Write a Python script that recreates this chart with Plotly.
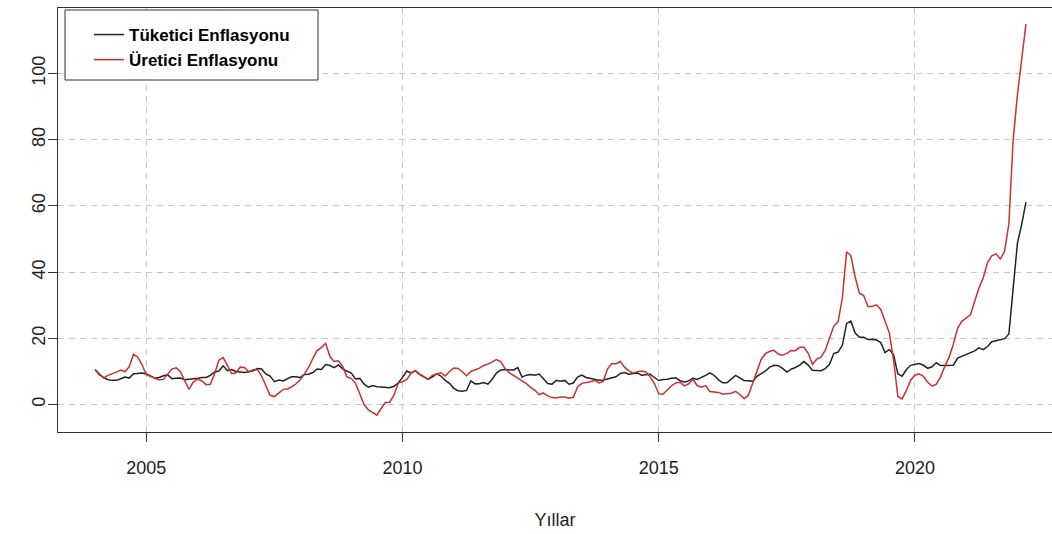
import numpy as np
import plotly.graph_objects as go

# Monthly annual inflation rates (%), January 2004 - March 2022
start_year = 2004
tufe = [
    10.6, 9.0, 8.2, 7.5, 7.3, 7.3, 7.8, 8.3, 8.0, 9.3, 9.4, 9.5,                       # 2004
    9.24, 8.69, 7.94, 8.18, 8.70, 8.95, 7.82, 7.91, 7.99, 7.52, 7.61, 7.72,            # 2005
    7.93, 8.15, 8.16, 8.83, 9.86, 10.12, 11.69, 10.26, 10.55, 9.98, 9.86, 9.65,        # 2006
    9.93, 10.16, 10.86, 10.72, 9.23, 8.60, 6.90, 7.39, 7.12, 7.70, 8.40, 8.39,         # 2007
    8.17, 9.10, 9.15, 9.66, 10.74, 10.61, 12.06, 11.77, 11.13, 11.99, 10.76, 10.06,    # 2008
    9.50, 7.73, 7.89, 6.13, 5.24, 5.73, 5.39, 5.33, 5.27, 5.08, 5.53, 6.53,            # 2009
    8.19, 10.13, 9.56, 10.19, 9.10, 8.37, 7.58, 8.33, 9.24, 8.62, 7.29, 6.40,          # 2010
    4.90, 4.16, 3.99, 4.26, 7.17, 6.24, 6.31, 6.65, 6.15, 7.66, 9.48, 10.45,           # 2011
    10.61, 10.43, 10.43, 11.14, 8.28, 8.87, 9.07, 8.88, 9.19, 7.80, 6.37, 6.16,        # 2012
    7.31, 7.03, 7.29, 6.13, 6.51, 8.30, 8.88, 8.17, 7.88, 7.71, 7.32, 7.40,            # 2013
    7.75, 7.89, 8.39, 9.38, 9.66, 9.16, 9.32, 9.54, 8.86, 8.96, 9.15, 8.17,            # 2014
    7.24, 7.55, 7.61, 7.91, 8.09, 7.20, 6.81, 7.14, 7.95, 7.58, 8.10, 8.81,            # 2015
    9.58, 8.78, 7.46, 6.57, 6.58, 7.64, 8.79, 8.05, 7.28, 7.16, 7.00, 8.53,            # 2016
    9.22, 10.13, 11.29, 11.87, 11.72, 10.90, 9.79, 10.68, 11.20, 11.90, 12.98, 11.92,  # 2017
    10.35, 10.26, 10.23, 10.85, 12.15, 15.39, 15.85, 17.90, 24.52, 25.24, 21.62, 20.30,  # 2018
    20.35, 19.67, 19.71, 19.50, 18.71, 15.72, 16.65, 15.01, 9.26, 8.55, 10.56, 11.84,  # 2019
    12.15, 12.37, 11.86, 10.94, 11.39, 12.62, 11.76, 11.77, 11.75, 11.89, 14.03, 14.60,  # 2020
    14.97, 15.61, 16.19, 17.14, 16.59, 17.53, 18.95, 19.25, 19.58, 19.89, 21.31, 36.08,  # 2021
    48.69, 54.44, 61.14,                                                               # 2022
]
ufe = [
    10.6, 9.3, 8.0, 8.8, 9.2, 9.8, 10.4, 9.9, 11.4, 15.2, 14.3, 12.0,                  # 2004
    9.0, 8.4, 7.9, 7.4, 7.6, 9.0, 10.7, 11.1, 9.9, 7.2, 4.6, 6.8,                      # 2005
    7.7, 7.2, 6.0, 6.1, 9.3, 13.4, 14.2, 11.8, 9.3, 9.6, 11.3, 11.2,                   # 2006
    9.9, 10.5, 10.6, 8.6, 5.4, 2.8, 2.4, 3.5, 4.5, 4.7, 5.3, 6.2,                      # 2007
    7.4, 9.2, 11.2, 13.9, 16.3, 17.2, 18.5, 14.5, 13.0, 13.2, 11.5, 8.3,               # 2008
    7.9, 6.4, 3.0, 0.0, -1.6, -2.3, -3.2, -1.2, 0.6, 0.7, 2.8, 6.5,                    # 2009
    6.9, 7.6, 9.4, 10.3, 9.2, 8.4, 7.6, 8.8, 9.3, 9.6, 8.6, 10.0,                      # 2010
    11.0, 10.9, 9.9, 8.7, 10.0, 10.4, 11.0, 11.8, 12.2, 12.9, 13.6, 13.0,              # 2011
    10.9, 9.6, 8.8, 8.0, 7.3, 6.3, 5.2, 4.3, 3.0, 3.5, 2.6, 2.1,                       # 2012
    2.0, 2.3, 2.3, 1.9, 2.2, 5.3, 6.4, 6.6, 6.9, 7.3, 6.5, 7.0,                        # 2013
    10.72, 12.40, 12.31, 12.98, 11.28, 10.19, 9.46, 9.88, 10.11, 9.85, 8.36, 6.36,     # 2014
    3.28, 3.10, 4.51, 5.68, 6.52, 6.73, 5.62, 6.22, 7.65, 5.74, 5.25, 5.71,            # 2015
    3.96, 3.82, 3.67, 3.13, 3.25, 3.41, 3.96, 3.03, 1.78, 2.79, 6.41, 9.94,            # 2016
    13.69, 15.36, 16.09, 16.37, 15.26, 14.87, 15.45, 16.34, 16.28, 17.28, 17.30, 15.47,  # 2017
    12.14, 13.71, 14.28, 16.37, 20.16, 23.71, 25.00, 32.13, 46.15, 45.01, 38.54, 33.64,  # 2018
    32.93, 29.59, 29.64, 30.12, 28.71, 25.04, 21.66, 13.45, 2.45, 1.70, 4.26, 7.36,    # 2019
    8.84, 9.26, 8.50, 6.71, 5.53, 6.17, 8.33, 11.53, 14.33, 18.20, 23.11, 25.15,       # 2020
    26.16, 27.09, 31.20, 35.17, 38.33, 42.89, 44.92, 45.52, 43.96, 46.31, 54.62, 79.89,  # 2021
    93.53, 105.01, 114.97,                                                             # 2022
]
series_names = ["Tüketici Enflasyonu", "Üretici Enflasyonu"]
series_colors = ["#222222", "#c8312f"]
x_ticks = [2005, 2010, 2015, 2020]
y_ticks = [0, 20, 40, 60, 80, 100]
x_title = "Yıllar"

t = start_year + np.arange(len(tufe)) / 12.0

FONT = "Liberation Sans, Arial, sans-serif"

fig = go.Figure()
for vals, name, col in zip([tufe, ufe], series_names, series_colors):
    fig.add_trace(go.Scatter(x=t, y=vals, mode="lines", name=name,
                             line=dict(color=col, width=1.5)))

axis_common = dict(
    showline=True, linecolor="#333333", linewidth=1, mirror=True,
    ticks="outside", ticklen=9, tickcolor="#333333", tickwidth=1,
    showgrid=True, gridcolor="#c8c8c8", gridwidth=1, griddash="6px,5px",
    zeroline=False,
    tickfont=dict(family=FONT, size=18, color="#222222"),
)

# legend frame (R-style box), drawn in paper coordinates of the plot area
plot_top, plot_h = 8, 424
def py(pix):
    return (plot_top + plot_h - pix) / plot_h
def px(pix):
    return (pix - 58) / 994.0

fig.add_shape(type="rect", xref="paper", yref="paper",
              x0=px(65), x1=px(318), y0=py(80), y1=py(10),
              fillcolor="white", line=dict(color="#333333", width=1), layer="above")

fig.update_layout(
    width=1052, height=534,
    margin=dict(l=58, r=0, t=8, b=102),
    paper_bgcolor="white", plot_bgcolor="white",
    showlegend=True,
    legend=dict(
        x=px(89), y=py(17), xanchor="left", yanchor="top",
        bgcolor="rgba(0,0,0,0)", borderwidth=0,
        font=dict(family=FONT, size=17, color="black", weight="bold"),
        tracegroupgap=0,
    ),
    xaxis=dict(range=[2003.277, 2022.675], tickvals=x_ticks, ticklabelstandoff=10,
               title=dict(text=x_title, font=dict(family=FONT, size=18, color="#222222"), standoff=36),
               **axis_common),
    yaxis=dict(range=[-8.3, 119.8], tickvals=y_ticks, tickangle=-90, ticklabelstandoff=-4,
               **axis_common),
)

fig.write_html("out.html")
